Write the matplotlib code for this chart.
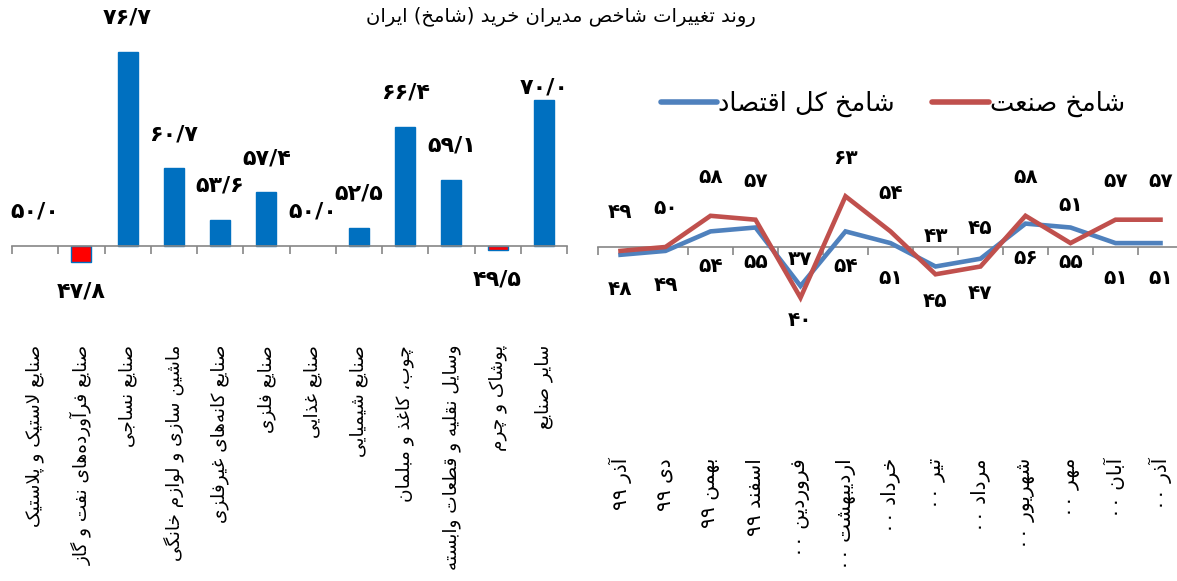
import matplotlib
matplotlib.use('Agg')
import matplotlib.pyplot as plt
import numpy as np
from matplotlib.transforms import blended_transform_factory

plt.rcParams['font.family'] = ['DejaVu Sans']

# ---------------- data ----------------
title = "روند تغییرات شاخص مدیران خرید (شامخ) ایران"
industries = ["صنایع لاستیک و پلاستیک", "صنایع فرآورده‌های نفت و گاز", "صنایع نساجی",
              "ماشین سازی و لوازم خانگی", "صنایع کانه‌های غیرفلزی", "صنایع فلزی",
              "صنایع غذایی", "صنایع شیمیایی", "چوب، کاغذ و مبلمان",
              "وسایل نقلیه و قطعات وابسته", "پوشاک و چرم", "سایر صنایع"]
industry_values = [50.0, 47.8, 76.7, 60.7, 53.6, 57.4, 50.0, 52.5, 66.4, 59.1, 49.5, 70.0]

months = ["آذر ۹۹", "دی ۹۹", "بهمن ۹۹", "اسفند ۹۹", "فروردین ۰۰", "اردیبهشت ۰۰",
          "خرداد ۰۰", "تیر ۰۰", "مرداد ۰۰", "شهریور ۰۰", "مهر ۰۰", "آبان ۰۰", "آذر ۰۰"]
industry_index = [49, 50, 58, 57, 37, 63, 54, 43, 45, 58, 51, 57, 57]
economy_index = [48, 49, 54, 55, 40, 54, 51, 45, 47, 56, 55, 51, 51]
series_names = ["شامخ کل اقتصاد", "شامخ صنعت"]

# ---------------- Persian shaping ----------------
_R = {'ا': (0xFE8D, 0xFE8E), 'آ': (0xFE81, 0xFE82), 'د': (0xFEA9, 0xFEAA),
      'ذ': (0xFEAB, 0xFEAC), 'ر': (0xFEAD, 0xFEAE), 'ز': (0xFEAF, 0xFEB0),
      'ژ': (0xFB8A, 0xFB8B), 'و': (0xFEED, 0xFEEE)}
_D = {'ب': 0xFE8F, 'ت': 0xFE95, 'ث': 0xFE99, 'ج': 0xFE9D, 'ح': 0xFEA1, 'خ': 0xFEA5,
      'س': 0xFEB1, 'ش': 0xFEB5, 'ص': 0xFEB9, 'ض': 0xFEBD, 'ط': 0xFEC1, 'ظ': 0xFEC5,
      'ع': 0xFEC9, 'غ': 0xFECD, 'ف': 0xFED1, 'ق': 0xFED5, 'ل': 0xFEDD, 'م': 0xFEE1,
      'ن': 0xFEE5, 'ه': 0xFEE9, 'ی': 0xFBFC, 'پ': 0xFB56, 'چ': 0xFB7A, 'ک': 0xFB8E,
      'گ': 0xFB92}
_MIRROR = {'(': ')', ')': '('}


def _jt(c):
    if c in _D:
        return 'D'
    if c in _R:
        return 'R'
    return 'U'


def shape(text):
    chars = list(text)
    out = []
    i = 0
    n = len(chars)
    while i < n:
        c = chars[i]
        prev = chars[i - 1] if i > 0 else ''
        prev_joins = _jt(prev) == 'D'
        if c == 'ل' and i + 1 < n and chars[i + 1] in ('ا', 'آ'):
            if chars[i + 1] == 'ا':
                out.append(chr(0xFEFC if prev_joins else 0xFEFB))
            else:
                out.append(chr(0xFEF6 if prev_joins else 0xFEF5))
            i += 2
            continue
        t = _jt(c)
        if t == 'U':
            if c != '\u200c':
                out.append(c)
            i += 1
            continue
        nxt = chars[i + 1] if i + 1 < n else ''
        next_joins = (t == 'D') and _jt(nxt) in ('D', 'R')
        if t == 'R':
            iso, fin = _R[c]
            out.append(chr(fin if prev_joins else iso))
        else:
            b = _D[c]
            if prev_joins and next_joins:
                out.append(chr(b + 3))
            elif prev_joins:
                out.append(chr(b + 1))
            elif next_joins:
                out.append(chr(b + 2))
            else:
                out.append(chr(b))
        i += 1
    # bidi: reverse, keeping digit runs in LTR order
    segs = []
    cur = ''
    for c in out:
        if '\u06f0' <= c <= '\u06f9' or c.isdigit() or (cur and c == '/'):
            cur += c
        else:
            if cur:
                segs.append(cur)
                cur = ''
            segs.append(_MIRROR.get(c, c))
    if cur:
        segs.append(cur)
    return ''.join(reversed(segs))


_PD = str.maketrans('0123456789', '۰۱۲۳۴۵۶۷۸۹')


def fa_num(v, dec=1):
    s = f"{v:.{dec}f}".replace('.', '/')
    return s.translate(_PD)


# ---------------- figure ----------------
W, H = 1177, 581
fig = plt.figure(figsize=(W / 100, H / 100), dpi=100)
fig.patch.set_facecolor('white')

AX_GRAY = '#868686'
BLUE_BAR = '#0070C0'
RED_BAR = '#FF0000'
BLUE_LINE = '#4F81BD'
RED_LINE = '#C0504D'

# ---- left: bar chart ----
axL = fig.add_axes([12 / W, (H - 304.2) / H, 555 / W, 262 / H])
x = np.arange(len(industries))
vals = np.array(industry_values)
colors = [BLUE_BAR if v >= 50 else RED_BAR for v in vals]
edge_w = [0 if v == 50 else 1.0 for v in vals]
axL.bar(x, vals - 50, bottom=50, width=0.43, color=colors,
        edgecolor=BLUE_BAR, linewidth=edge_w, zorder=2)
axL.set_xlim(-0.5, len(industries) - 0.5)
axL.set_ylim(42, 78)
for s in ['left', 'right', 'top']:
    axL.spines[s].set_visible(False)
axL.spines['bottom'].set_position(('data', 50))
axL.spines['bottom'].set_color(AX_GRAY)
axL.spines['bottom'].set_linewidth(1.2)
axL.set_yticks([])
axL.set_xticks(np.arange(-0.5, len(industries), 1.0))
axL.set_xticklabels([])
axL.tick_params(axis='x', direction='out', length=6, color=AX_GRAY, width=1.2)
axL.patch.set_visible(False)

label_off_px = [34] * len(vals)
label_off_px[11] = 13
for xi, v, off in zip(x, vals, label_off_px):
    if v >= 50:
        axL.annotate(fa_num(v), (xi, v), xytext=(0, off * 0.72), textcoords='offset points',
                     ha='center', va='center', fontsize=16, fontweight='bold')
    else:
        axL.annotate(fa_num(v), (xi, v), xytext=(0, -30 * 0.72), textcoords='offset points',
                     ha='center', va='center', fontsize=16, fontweight='bold')

trL = blended_transform_factory(axL.transData, fig.transFigure)
for xi, lbl in zip(x, industries):
    axL.text(xi, 1 - 345 / H, shape(lbl), transform=trL, rotation=90,
             rotation_mode='anchor', ha='right', va='center', fontsize=13.3)

# ---- right: line chart ----
axR = fig.add_axes([598 / W, (H - 325) / H, 585 / W, 156 / H])
xr = np.arange(len(months))
axR.plot(xr, economy_index, color=BLUE_LINE, lw=3.3, solid_joinstyle='miter',
         label=shape(series_names[0]), zorder=3)
axR.plot(xr, industry_index, color=RED_LINE, lw=3.3, solid_joinstyle='miter',
         label=shape(series_names[1]), zorder=4)
axR.set_xlim(-0.5, len(months) - 0.5)
axR.set_ylim(30, 70)
for s in ['left', 'right', 'top']:
    axR.spines[s].set_visible(False)
axR.spines['bottom'].set_position(('data', 50))
axR.spines['bottom'].set_color(AX_GRAY)
axR.spines['bottom'].set_linewidth(1.2)
axR.set_yticks([])
axR.set_xticks(np.arange(-0.5, len(months), 1.0))
axR.set_xticklabels([])
axR.tick_params(axis='x', direction='out', length=6, color=AX_GRAY, width=1.2)
axR.patch.set_visible(False)

for xi, v in zip(xr, industry_index):
    axR.annotate(fa_num(v, 0), (xi, v), xytext=(0, 38 * 0.72), textcoords='offset points',
                 ha='center', va='center', fontsize=14.5, fontweight='bold')
for xi, v in zip(xr, economy_index):
    axR.annotate(fa_num(v, 0), (xi, v), xytext=(0, -35 * 0.72), textcoords='offset points',
                 ha='center', va='center', fontsize=14.5, fontweight='bold')

trR = blended_transform_factory(axR.transData, fig.transFigure)
for xi, lbl in zip(xr, months):
    axR.text(xi, 1 - 458 / H, shape(lbl), transform=trR, rotation=90,
             rotation_mode='anchor', ha='right', va='center', fontsize=14.5)

leg = fig.legend(handles=axR.get_lines(), loc='center', bbox_to_anchor=(893 / W, 1 - 104 / H),
                 ncol=2, frameon=False, fontsize=18.5, handlelength=2.2, handletextpad=0.05,
                 columnspacing=1.45)
for ln in leg.get_lines():
    ln.set_linewidth(4)
    ln.set_solid_capstyle('round')

fig.text(561 / W, 1 - 17 / H, shape(title), ha='center', va='center', fontsize=14)

fig.savefig('out.png', dpi=100)
